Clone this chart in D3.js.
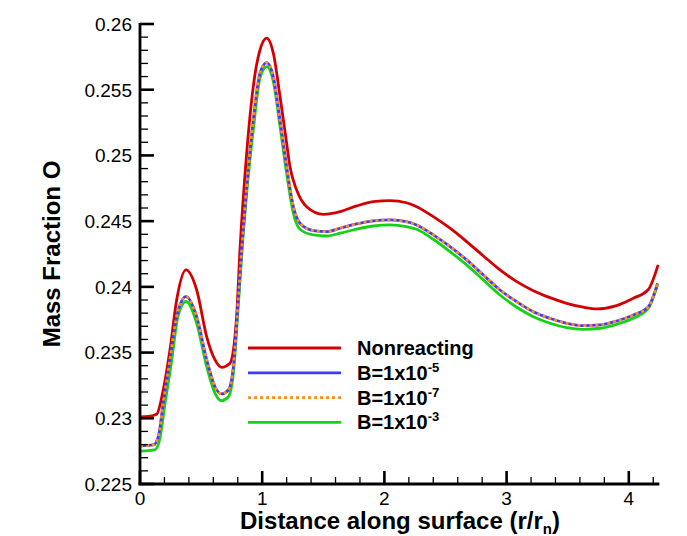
<!DOCTYPE html>
<html>
<head>
<meta charset="utf-8">
<script src="https://cdn.jsdelivr.net/npm/d3@7"></script>
<style>
  body { margin: 0; background: #fff; }
  text { font-family: "Liberation Sans", Arial, Helvetica, sans-serif; fill: #000; }
</style>
</head>
<body>
<div id="chart"></div>
<script>
// distance along surface (r/rn)
var rRed = [0, 0.07, 0.136, 0.19, 0.245, 0.30, 0.376, 0.464, 0.546, 0.614, 0.668, 0.736, 0.79, 0.818, 0.873, 0.927, 0.982, 1.037, 1.091, 1.146, 1.2, 1.227, 1.282, 1.364, 1.5, 1.637, 1.773, 1.909, 2.046, 2.18, 2.264, 2.4, 2.537, 2.673, 2.81, 2.946, 3.083, 3.219, 3.355, 3.492, 3.628, 3.737, 3.9, 4.037, 4.16, 4.24];
var nonreacting = [0.23010, 0.23014, 0.2303, 0.23215, 0.2352, 0.2390, 0.24129, 0.23976, 0.2362, 0.23444, 0.23388, 0.23419, 0.2377, 0.2428, 0.25017, 0.25524, 0.25803, 0.25892, 0.25777, 0.25448, 0.25093, 0.24915, 0.24737, 0.2461, 0.24552, 0.24572, 0.24616, 0.24648, 0.24656, 0.2464, 0.2461, 0.24534, 0.24446, 0.24344, 0.24235, 0.24129, 0.2404, 0.23971, 0.23918, 0.23875, 0.23845, 0.23832, 0.23857, 0.23913, 0.2398, 0.24167];

var rB = [0, 0.11, 0.15, 0.19, 0.245, 0.30, 0.376, 0.464, 0.546, 0.614, 0.668, 0.723, 0.764, 0.804, 0.832, 0.873, 0.927, 0.982, 1.037, 1.091, 1.146, 1.2, 1.255, 1.309, 1.418, 1.528, 1.637, 1.773, 1.909, 2.046, 2.18, 2.264, 2.4, 2.537, 2.673, 2.81, 2.946, 3.083, 3.219, 3.355, 3.492, 3.628, 3.764, 3.9, 4.037, 4.16, 4.235];
var b1e5 = [0.2279, 0.22797, 0.2286, 0.23114, 0.23444, 0.23773, 0.23925, 0.23773, 0.23444, 0.2324, 0.23185, 0.23215, 0.23393, 0.2390, 0.2428, 0.24763, 0.2527, 0.25626, 0.25706, 0.25600, 0.2527, 0.24915, 0.2461, 0.24484, 0.24428, 0.2442, 0.24446, 0.24479, 0.24502, 0.24509, 0.24496, 0.24471, 0.24395, 0.24306, 0.24205, 0.2409, 0.23976, 0.23887, 0.23811, 0.23761, 0.23723, 0.23705, 0.2371, 0.2374, 0.23786, 0.23849, 0.24027];
var b1e7 = [0.2279, 0.22797, 0.2286, 0.23114, 0.23444, 0.23773, 0.23925, 0.23773, 0.23444, 0.2324, 0.23185, 0.23215, 0.23393, 0.2390, 0.2428, 0.24763, 0.2527, 0.25626, 0.25706, 0.25600, 0.2527, 0.24915, 0.2461, 0.24484, 0.24428, 0.2442, 0.24446, 0.24479, 0.24502, 0.24509, 0.24496, 0.24471, 0.24395, 0.24306, 0.24205, 0.2409, 0.23976, 0.23887, 0.23811, 0.23761, 0.23723, 0.23705, 0.2371, 0.2374, 0.23786, 0.23849, 0.24027];

var rG = [0, 0.12, 0.16, 0.205, 0.26, 0.31, 0.376, 0.464, 0.546, 0.614, 0.668, 0.723, 0.764, 0.804, 0.845, 0.873, 0.927, 0.982, 1.037, 1.091, 1.146, 1.2, 1.255, 1.309, 1.418, 1.528, 1.637, 1.773, 1.909, 2.046, 2.18, 2.264, 2.4, 2.537, 2.673, 2.81, 2.946, 3.083, 3.219, 3.355, 3.492, 3.628, 3.764, 3.9, 4.037, 4.16, 4.235];
var b1e3 = [0.2275, 0.22759, 0.22835, 0.23114, 0.23444, 0.23773, 0.2389, 0.23723, 0.23393, 0.2319, 0.23134, 0.23164, 0.23342, 0.2385, 0.24408, 0.24712, 0.25194, 0.25588, 0.25676, 0.25562, 0.25219, 0.24864, 0.2456, 0.24438, 0.24395, 0.24387, 0.24408, 0.2444, 0.24463, 0.24471, 0.24458, 0.24438, 0.24362, 0.24268, 0.24167, 0.24053, 0.23938, 0.23845, 0.23773, 0.23723, 0.2369, 0.23677, 0.23685, 0.23715, 0.23761, 0.23837, 0.24014];

var yTicks = [0.225, 0.23, 0.235, 0.24, 0.245, 0.25, 0.255, 0.26];
var xTicks = [0, 1, 2, 3, 4];

var width = 687, height = 536;
var margin = { top: 24, right: 28, bottom: 52, left: 140 };

var svg = d3.select("#chart").append("svg")
    .attr("width", width)
    .attr("height", height);

var x = d3.scaleLinear().domain([0, 4.25]).range([margin.left, 140 + 122.2 * 4.25]);
var y = d3.scaleLinear().domain([0.225, 0.26]).range([484, margin.top]);

// series, drawn green first so the blue/orange pair sits on top
var series = [
    { r: rG, v: b1e3, color: "#14d214", dash: null },
    { r: rRed, v: nonreacting, color: "#d40000", dash: null },
    { r: rB, v: b1e5, color: "#3c3cff", dash: null },
    { r: rB, v: b1e7, color: "#ff8c1e", dash: "3,3" }
];

var line = d3.line()
    .x(function(d) { return x(d[0]); })
    .y(function(d) { return y(d[1]); })
    .curve(d3.curveMonotoneX);

series.forEach(function(s) {
    svg.append("path")
        .datum(s.r.map(function(r, i) { return [r, s.v[i]]; }))
        .attr("fill", "none")
        .attr("stroke", s.color)
        .attr("stroke-width", 2.8)
        .attr("stroke-dasharray", s.dash)
        .attr("d", line);
});

// y axis, ticks pointing inward
var yMinor = d3.range(0.225, 0.2605, 0.001);
var yAx = svg.append("g");
yAx.selectAll("line.minor").data(yMinor).enter().append("line")
    .attr("x1", 140).attr("x2", 148)
    .attr("y1", function(d) { return y(d); }).attr("y2", function(d) { return y(d); })
    .attr("stroke", "#000").attr("stroke-width", 1.3);
yAx.selectAll("line.major").data(yTicks).enter().append("line")
    .attr("x1", 140).attr("x2", 154)
    .attr("y1", function(d) { return y(d); }).attr("y2", function(d) { return y(d); })
    .attr("stroke", "#000").attr("stroke-width", 2.6);
yAx.selectAll("text").data(yTicks).enter().append("text")
    .attr("x", 132)
    .attr("y", function(d) { return y(d); })
    .attr("dy", "0.36em")
    .attr("text-anchor", "end")
    .style("font-size", "19px")
    .text(function(d) { return d3.format("")(+d.toFixed(3)); });
yAx.append("line")
    .attr("x1", 140).attr("x2", 140)
    .attr("y1", y(0.26) - 1).attr("y2", y(0.225) + 1.3)
    .attr("stroke", "#000").attr("stroke-width", 2.8);

// x axis
var xMinor = d3.range(0, 4.21, 0.2);
var xAx = svg.append("g");
xAx.selectAll("line.minor").data(xMinor).enter().append("line")
    .attr("x1", function(d) { return x(d); }).attr("x2", function(d) { return x(d); })
    .attr("y1", 484).attr("y2", 477)
    .attr("stroke", "#000").attr("stroke-width", 1.3);
xAx.selectAll("line.major").data(xTicks).enter().append("line")
    .attr("x1", function(d) { return x(d); }).attr("x2", function(d) { return x(d); })
    .attr("y1", 484).attr("y2", 471)
    .attr("stroke", "#000").attr("stroke-width", 2.6);
xAx.selectAll("text").data(xTicks).enter().append("text")
    .attr("x", function(d) { return x(d); })
    .attr("y", 505)
    .attr("text-anchor", "middle")
    .style("font-size", "19px")
    .text(function(d) { return d; });
xAx.append("line")
    .attr("x1", 138.6).attr("x2", x(4.25))
    .attr("y1", 484).attr("y2", 484)
    .attr("stroke", "#000").attr("stroke-width", 2.8);

// axis titles
var xt = svg.append("text")
    .attr("x", 400).attr("y", 529)
    .attr("text-anchor", "middle")
    .style("font-size", "24px").style("font-weight", "bold")
    .text("Distance along surface (r/r");
xt.append("tspan").attr("dy", 5).style("font-size", "15px").text("n");
xt.append("tspan").attr("dy", -5).text(")");

svg.append("text")
    .attr("transform", "translate(60,254) rotate(-90)")
    .attr("text-anchor", "middle")
    .style("font-size", "24px").style("font-weight", "bold")
    .text("Mass Fraction O");

// legend
var legendItems = [
    { label: "Nonreacting", sup: null, color: "#d40000", dash: null },
    { label: "B=1x10", sup: "-5", color: "#3c3cff", dash: null },
    { label: "B=1x10", sup: "-7", color: "#ff8c1e", dash: "3,3" },
    { label: "B=1x10", sup: "-3", color: "#14d214", dash: null }
];
var legend = svg.append("g");
legendItems.forEach(function(d, i) {
    var ly = 348 + i * 24.8;
    legend.append("line")
        .attr("x1", 248).attr("x2", 341)
        .attr("y1", ly).attr("y2", ly)
        .attr("stroke", d.color)
        .attr("stroke-width", 2.8)
        .attr("stroke-dasharray", d.dash);
    var t = legend.append("text")
        .attr("x", 357).attr("y", ly + 7)
        .style("font-size", "20px").style("font-weight", "bold")
        .text(d.label);
    if (d.sup) {
        t.append("tspan").attr("dy", -8).style("font-size", "13px").text(d.sup);
    }
});
</script>
</body>
</html>
